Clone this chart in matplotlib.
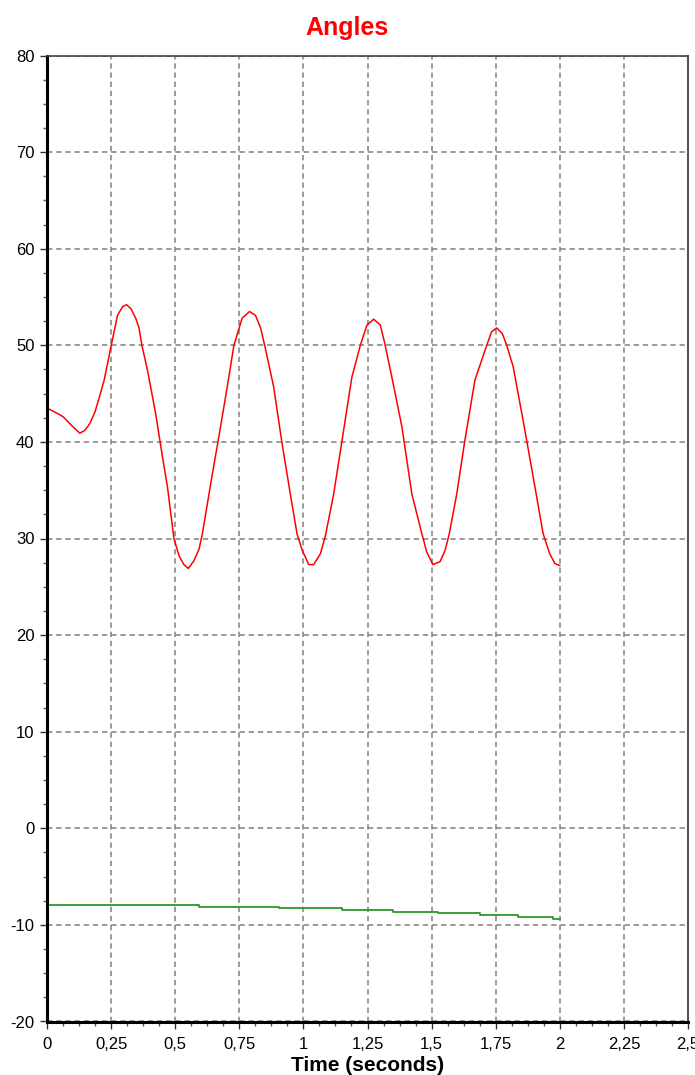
import numpy as np
import matplotlib.pyplot as plt
from matplotlib.ticker import MultipleLocator, FuncFormatter

plt.rcParams['font.family'] = ['Liberation Sans', 'DejaVu Sans']
plt.rcParams['axes.unicode_minus'] = False

# red curve
time_red = [0.0, 0.044, 0.063, 0.096, 0.128, 0.148, 0.167, 0.187, 0.206, 0.223,
            0.249, 0.275, 0.295, 0.310, 0.327, 0.346, 0.359, 0.370, 0.392, 0.424,
            0.444, 0.470, 0.495, 0.515, 0.534, 0.551, 0.573, 0.593, 0.606, 0.645,
            0.670, 0.703, 0.729, 0.761, 0.790, 0.813, 0.833, 0.849, 0.884, 0.917,
            0.949, 0.975, 0.995, 1.021, 1.040, 1.066, 1.086, 1.118, 1.151, 1.189,
            1.222, 1.248, 1.274, 1.300, 1.319, 1.345, 1.384, 1.423, 1.462, 1.481,
            1.505, 1.533, 1.553, 1.569, 1.598, 1.630, 1.669, 1.715, 1.734, 1.754,
            1.776, 1.793, 1.818, 1.857, 1.896, 1.935, 1.961, 1.981, 2.0]
angle_red = [43.5, 42.9, 42.6, 41.7, 40.9, 41.2, 41.9, 43.1, 44.8, 46.4,
             49.8, 53.1, 54.0, 54.2, 53.8, 52.8, 51.8, 50.0, 47.4, 42.9,
             39.5, 35.3, 30.0, 28.2, 27.3, 26.9, 27.7, 28.9, 30.5, 36.7,
             40.5, 45.7, 50.0, 52.8, 53.5, 53.1, 51.8, 50.0, 45.7, 39.8,
             34.6, 30.5, 28.8, 27.3, 27.3, 28.4, 30.3, 34.6, 40.2, 46.7,
             50.0, 52.1, 52.7, 52.1, 50.0, 46.7, 41.6, 34.6, 30.5, 28.6,
             27.3, 27.6, 28.8, 30.5, 34.6, 40.2, 46.4, 50.0, 51.4, 51.8,
             51.2, 50.0, 47.8, 42.2, 36.4, 30.5, 28.4, 27.4, 27.2]

# green curve (stepped)
time_green = [0.0, 0.591, 0.906, 1.149, 1.348, 1.526, 1.689, 1.837, 1.974, 2.0]
angle_green = [-7.95, -8.11, -8.30, -8.48, -8.67, -8.81, -8.96, -9.15, -9.37, -9.37]

x_ticks = [0, 0.25, 0.5, 0.75, 1, 1.25, 1.5, 1.75, 2, 2.25, 2.5]
y_ticks = [-20, -10, 0, 10, 20, 30, 40, 50, 60, 70, 80]

fig = plt.figure(figsize=(6.95, 10.75), dpi=100)
ax = fig.add_axes([47 / 695, 1 - 1021.5 / 1075, 641 / 695, 966 / 1075])

ax.plot(time_red, angle_red, color='#ff0000', lw=1.1)
ax.plot(time_green, angle_green, color='#2a9a2a', lw=1.3, drawstyle='steps-post')

ax.set_xlim(0, 2.5)
ax.set_ylim(-20, 80)
ax.set_xticks(x_ticks)
ax.set_yticks(y_ticks)
ax.xaxis.set_minor_locator(MultipleLocator(0.0625))
ax.yaxis.set_minor_locator(MultipleLocator(2.5))
ax.xaxis.set_major_formatter(FuncFormatter(lambda v, p: f'{v:g}'.replace('.', ',')))
ax.yaxis.set_major_formatter(FuncFormatter(lambda v, p: f'{v:g}'))

ax.grid(True, which='major', color='#808080', lw=1.1, linestyle=(0, (3.5, 2.5)))
ax.tick_params(which='major', length=5, width=1, color='#333333', labelsize=12, pad=4)
ax.tick_params(axis='x', which='major', pad=6)
ax.tick_params(which='minor', length=3, width=1, color='#555555')

ax.spines['left'].set_linewidth(2.2)
ax.spines['bottom'].set_linewidth(2.2)
ax.spines['left'].set_color('black')
ax.spines['bottom'].set_color('black')
ax.spines['top'].set_linewidth(1.2)
ax.spines['top'].set_color('#444444')
ax.spines['right'].set_linewidth(1.5)
ax.spines['right'].set_color('#555555')

ax.set_xlabel('Time (seconds)', fontsize=15, fontweight='bold')
ax.xaxis.set_label_coords(0.5, -(1056 - 1021.5) / 966)
fig.text(0.5, 1 - 28 / 1075, 'Angles', color='#ff0000', fontsize=18,
         fontweight='bold', ha='center', va='center')

fig.savefig('out.png', dpi=100)
